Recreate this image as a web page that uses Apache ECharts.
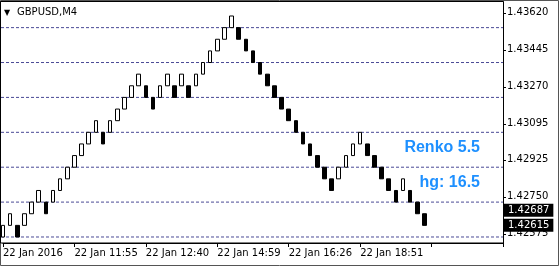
<!DOCTYPE html>
<html><head><meta charset="utf-8">
<script src="https://cdn.jsdelivr.net/npm/echarts@6/dist/echarts.min.js"></script>
<style>html,body{margin:0;padding:0;background:#fff}#c{width:560px;height:267px}</style>
</head><body><div id="c"></div>
<script>
// Renko bricks (5.5 pip): open and close price of each brick
const brickOpen = [
 1.42560,1.42615,1.42615,1.42615,1.42670,1.42725,1.42725,1.42725,1.42780,1.42835,
 1.42890,1.42945,1.43000,1.43055,1.43055,1.43055,1.43110,1.43165,1.43220,1.43275,
 1.43275,1.43220,1.43220,1.43275,1.43275,1.43275,1.43275,1.43275,1.43330,1.43385,
 1.43440,1.43495,1.43550,1.43550,1.43495,1.43440,1.43385,1.43330,1.43275,1.43220,
 1.43165,1.43110,1.43055,1.43000,1.42945,1.42890,1.42835,1.42835,1.42890,1.42945,
 1.43000,1.43000,1.42945,1.42890,1.42835,1.42780,1.42780,1.42780,1.42725,1.42670
];
const brickClose = [
 1.42615,1.42670,1.42560,1.42670,1.42725,1.42780,1.42670,1.42780,1.42835,1.42890,
 1.42945,1.43000,1.43055,1.43110,1.43000,1.43110,1.43165,1.43220,1.43275,1.43330,
 1.43220,1.43165,1.43275,1.43330,1.43220,1.43330,1.43220,1.43330,1.43385,1.43440,
 1.43495,1.43550,1.43605,1.43495,1.43440,1.43385,1.43330,1.43275,1.43220,1.43165,
 1.43110,1.43055,1.43000,1.42945,1.42890,1.42835,1.42780,1.42890,1.42945,1.43000,
 1.43055,1.42945,1.42890,1.42835,1.42780,1.42725,1.42835,1.42725,1.42670,1.42615
];
const emptySlots = 11;
const timeLabels = ['22 Jan 2016','22 Jan 11:55','22 Jan 12:40','22 Jan 14:59','22 Jan 16:26','22 Jan 18:51'];
const labelEvery = 10;
const priceTicks = [1.42575,1.42750,1.42925,1.43095,1.43270,1.43445,1.43620];
const gridLevels = [1.42560,1.42725,1.42890,1.43055,1.43220,1.43385,1.43550];
const priceTags = [1.42687,1.42615];
const yMin = 1.425316, yMax = 1.436712;

const cats = [];
for (let i = 0; i < brickOpen.length + emptySlots; i++) cats.push(String(i));
const candles = brickOpen.map((o, i) => {
  const c = brickClose[i];
  return [o, c, Math.min(o, c), Math.max(o, c)];
});

const FONT = 'DejaVu Sans';

const chart = echarts.init(document.getElementById('c'), null, {renderer: 'canvas'});
chart.setOption({
  animation: false,
  backgroundColor: '#fff',
  grid: {left: 3, right: 57, top: 2, bottom: 24, show: false},
  xAxis: {
    type: 'category', data: cats, boundaryGap: false,
    axisLine: {show: true, lineStyle: {color: '#000', width: 1}},
    axisTick: {show: true, interval: labelEvery - 1, length: 4, lineStyle: {color: '#000'}},
    axisLabel: {
      interval: labelEvery - 1, align: 'left', margin: 5,
      color: '#000', fontFamily: FONT, fontSize: 10,
      formatter: (v, i) => (i % labelEvery === 0 && timeLabels[i / labelEvery]) ? timeLabels[i / labelEvery] : ''
    },
    splitLine: {show: false}
  },
  yAxis: {
    type: 'value', position: 'right', min: yMin, max: yMax,
    axisLine: {show: true, lineStyle: {color: '#000', width: 1}},
    axisTick: {show: true, length: 3, customValues: priceTicks, lineStyle: {color: '#000'}},
    axisLabel: {
      customValues: priceTicks, margin: 4, color: '#000', fontFamily: FONT, fontSize: 10,
      formatter: v => Number(v).toFixed(5)
    },
    splitLine: {show: false}
  },
  series: [
    {
      type: 'custom', z: 1, silent: true,
      data: gridLevels.map(v => [0, v]),
      encode: {x: 0, y: 1},
      renderItem: (params, api) => {
        const cs = params.coordSys;
        const y = api.coord([0, api.value(1)])[1];
        return {type: 'line', shape: {x1: cs.x - 2, y1: y, x2: cs.x + cs.width, y2: y},
          style: {stroke: '#4a4a96', lineWidth: 1, lineDash: [3, 2]}};
      }
    },
    {
      type: 'candlestick', z: 2,
      data: candles,
      barWidth: 4,
      itemStyle: {color: '#fff', color0: '#000', borderColor: '#000', borderColor0: '#000', borderWidth: 1}
    },
    {
      type: 'custom', z: 5, silent: true, clip: false,
      data: priceTags.map(v => [0, v]),
      encode: {x: 0, y: 1},
      renderItem: (params, api) => {
        const cs = params.coordSys;
        const v = api.value(1);
        const y = api.coord([0, v])[1];
        return {type: 'text', x: cs.x + cs.width + 1, y: y,
          style: {text: v.toFixed(5), fill: '#fff', backgroundColor: '#000', padding: [1, 4, 0, 4],
            font: '10px "DejaVu Sans"', lineHeight: 12, align: 'left', verticalAlign: 'middle'}};
      }
    }
  ],
  graphic: [
    {type: 'rect', silent: true, z: 10, shape: {x: 0.5, y: 0.5, width: 558, height: 265},
     style: {fill: 'none', stroke: '#555', lineWidth: 1}},
    {type: 'rect', silent: true, z: 10, shape: {x: 0.5, y: 1.5, width: 503, height: 241.5},
     style: {fill: 'none', stroke: '#000', lineWidth: 1}},
    {type: 'text', silent: true, z: 10, x: 4, y: 9,
     style: {text: '▼', font: '8px "DejaVu Sans"', fill: '#000'}},
    {type: 'text', silent: true, z: 10, x: 17, y: 7,
     style: {text: 'GBPUSD,M4', font: '10px "DejaVu Sans"', fill: '#000'}},
    {type: 'text', silent: true, z: 10, x: 480, y: 147.5,
     style: {text: 'Renko 5.5', font: 'bold 16px "Liberation Sans"', fill: '#1e90ff', align: 'right', verticalAlign: 'middle'}},
    {type: 'text', silent: true, z: 10, x: 480, y: 182.5,
     style: {text: 'hg: 16.5', font: 'bold 16px "Liberation Sans"', fill: '#1e90ff', align: 'right', verticalAlign: 'middle'}}
  ]
});
</script></body></html>
